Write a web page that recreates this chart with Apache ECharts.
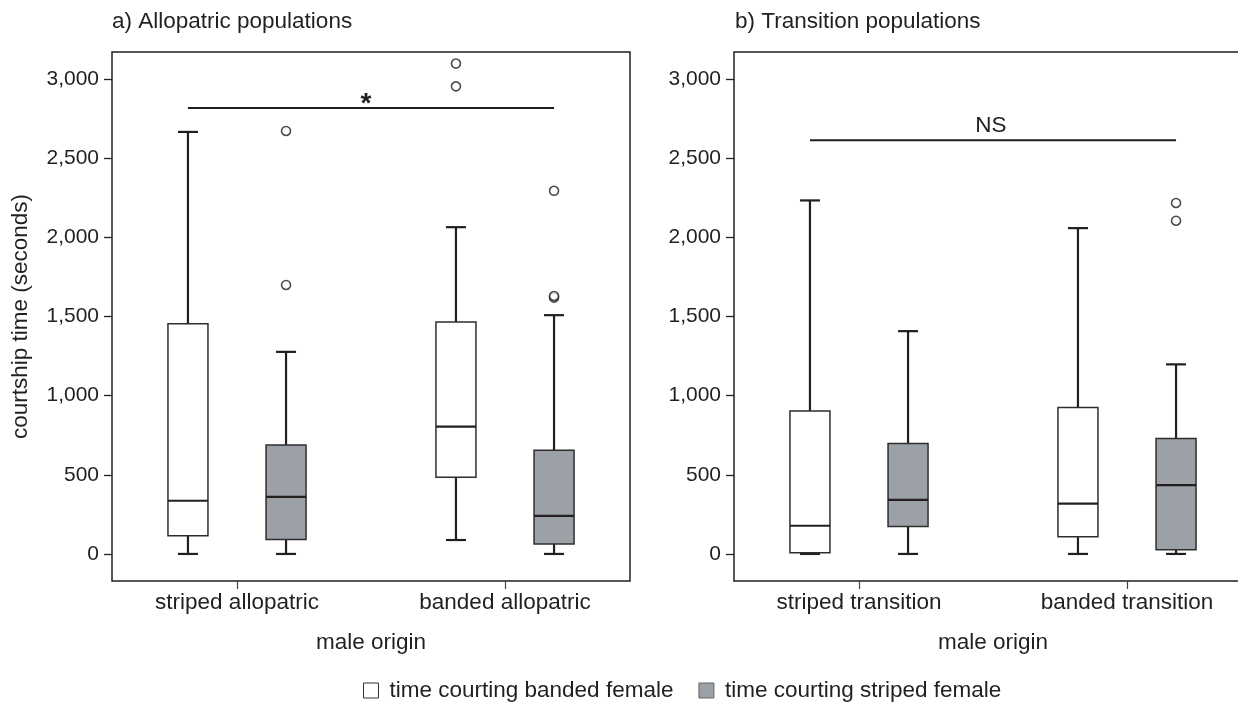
<!DOCTYPE html>
<html>
<head>
<meta charset="utf-8">
<title>courtship time</title>
<script src="https://cdn.jsdelivr.net/npm/echarts@6/dist/echarts.min.js"></script>
<style>
  html, body { margin: 0; padding: 0; background: #fff; }
  #chart { width: 1238px; height: 703px; }
</style>
</head>
<body>
<div id="chart"></div>
<script>
// categories on the x axis of each panel
const groupsA = ["striped allopatric", "banded allopatric"];
const groupsB = ["striped transition", "banded transition"];
const groupPos = [1, 2];
const seriesNames = ["time courting banded female", "time courting striped female"];

// box summaries: [min, q1, median, q3, max]
const bandedA = [[0, 115, 336, 1455, 2667], [88, 484, 804, 1466, 2065]];
const stripedA = [[0, 92, 360, 689, 1277], [0, 63, 241, 655, 1509]];
const bandedB = [[0, 7, 178, 903, 2234], [0, 108, 318, 926, 2059]];
const stripedB = [[0, 173, 342, 698, 1408], [0, 27, 435, 730, 1198]];

// outliers per group
const outBandedA = [[], [2955, 3099]];
const outStripedA = [[1700, 2673], [1620, 1630, 2295]];
const outBandedB = [[], []];
const outStripedB = [[], [2106, 2218]];

// significance bars
const sigLabels = ["*", "NS"];
const sigValues = [2818, 2615];

const yTicks = [0, 500, 1000, 1500, 2000, 2500, 3000];

const FONT = "Liberation Sans, Arial, Helvetica, sans-serif";
const FS = 22.5;
const INK = "#231f20";
const GREY = "#9ba1a6";
const SIDE = 0.183;      // dodge of the two boxes around the group tick
const BOX_W = 40;
const CAP_W = 20;

function boxRenderer(fill) {
  return function (params, api) {
    const x = api.value(0);
    const pMin = api.coord([x, api.value(1)]);
    const pQ1 = api.coord([x, api.value(2)]);
    const pMed = api.coord([x, api.value(3)]);
    const pQ3 = api.coord([x, api.value(4)]);
    const pMax = api.coord([x, api.value(5)]);
    const cx = pMin[0];
    const hw = BOX_W / 2, cw = CAP_W / 2;
    const ln = (x1, y1, x2, y2, w) => ({
      type: "line", shape: { x1, y1, x2, y2 }, style: { stroke: INK, lineWidth: w }
    });
    return {
      type: "group",
      children: [
        ln(cx, pQ3[1], cx, pMax[1], 2.2),
        ln(cx, pMin[1], cx, pQ1[1], 2.2),
        ln(cx - cw, pMax[1], cx + cw, pMax[1], 2.2),
        ln(cx - cw, pMin[1], cx + cw, pMin[1], 2.2),
        {
          type: "rect",
          shape: { x: cx - hw, y: pQ3[1], width: BOX_W, height: pQ1[1] - pQ3[1] },
          style: { fill: fill, stroke: "#2e2e2e", lineWidth: 1.5 }
        },
        ln(cx - hw, pMed[1], cx + hw, pMed[1], 2.2)
      ]
    };
  };
}

function sigRenderer(params, api) {
  const a = api.coord([api.value(0), api.value(2)]);
  const b = api.coord([api.value(1), api.value(2)]);
  const label = sigLabels[params.seriesName === "sigB" ? 1 : 0];
  const star = label === "*";
  return {
    type: "group",
    children: [
      { type: "line", shape: { x1: a[0], y1: a[1], x2: b[0], y2: b[1] }, style: { stroke: INK, lineWidth: 2 } },
      {
        type: "text",
        x: (a[0] + b[0]) / 2 - (star ? 5 : 2),
        y: a[1] - (star ? 4 : 14),
        style: {
          text: label, fill: INK, font: (star ? "bold 28px " : FS + "px ") + FONT,
          align: "center", verticalAlign: "middle"
        }
      }
    ]
  };
}

function boxData(list, shift) {
  return list.map((b, i) => [groupPos[i] + shift].concat(b));
}
function outData(list, shift) {
  const out = [];
  list.forEach((vals, i) => vals.forEach((v) => out.push([groupPos[i] + shift, v])));
  return out;
}

const chart = echarts.init(document.getElementById("chart"));

function xAxisFor(gridIndex, names) {
  return {
    type: "value", gridIndex: gridIndex,
    min: 1 - 125 / 268, max: 2 + 125 / 268,
    name: "male origin", nameLocation: "middle", nameGap: 50,
    nameTextStyle: { color: INK, fontSize: FS, fontFamily: FONT },
    axisLine: { show: false, onZero: false },
    splitLine: { show: false },
    axisTick: { show: true, customValues: groupPos, length: 8, inside: false, lineStyle: { color: "#444", width: 1.2 } },
    axisLabel: {
      customValues: groupPos, margin: 10, color: INK, fontSize: FS, fontFamily: FONT,
      formatter: (v) => names[Math.round(v) - 1]
    }
  };
}

function yAxisFor(gridIndex, withName) {
  return {
    type: "value", gridIndex: gridIndex, min: -171, max: 3172,
    name: withName ? "courtship time (seconds)" : "",
    nameLocation: "middle", nameGap: 80,
    nameTextStyle: { color: INK, fontSize: FS, fontFamily: FONT },
    axisLine: { show: false, onZero: false },
    splitLine: { show: false },
    axisTick: { show: true, customValues: yTicks, length: 8, lineStyle: { color: INK, width: 1.3 } },
    axisLabel: {
      customValues: yTicks, margin: 13, color: INK, fontSize: 21, fontFamily: FONT,
      formatter: (v) => v.toLocaleString("en-US")
    }
  };
}

const option = {
  animation: false,
  backgroundColor: "#fff",
  textStyle: { fontFamily: FONT },
  title: [
    { text: "a) Allopatric populations", left: 112, top: 10, padding: 0,
      textStyle: { color: INK, fontSize: FS, fontWeight: "normal", fontFamily: FONT } },
    { text: "b) Transition populations", left: 735, top: 10, padding: 0,
      textStyle: { color: INK, fontSize: FS, fontWeight: "normal", fontFamily: FONT } }
  ],
  legend: {
    left: 363, top: 679, padding: 0,
    itemWidth: 15, itemHeight: 15, itemGap: 25,
    textStyle: { color: INK, fontSize: FS, fontFamily: FONT, padding: [0, 0, 0, 6] },
    data: [
      { name: seriesNames[0], icon: "rect", itemStyle: { color: "#fff", borderColor: "#333", borderWidth: 1 } },
      { name: seriesNames[1], icon: "rect", itemStyle: { color: GREY, borderColor: "#666", borderWidth: 1 } }
    ]
  },
  grid: [
    { left: 112, top: 52, width: 518, height: 529, show: true, borderColor: INK, borderWidth: 1.5,
      backgroundColor: "transparent", outerBoundsMode: "none", containLabel: false },
    { left: 734, top: 52, width: 518, height: 529, show: true, borderColor: INK, borderWidth: 1.5,
      backgroundColor: "transparent", outerBoundsMode: "none", containLabel: false }
  ],
  xAxis: [xAxisFor(0, groupsA), xAxisFor(1, groupsB)],
  yAxis: [yAxisFor(0, true), yAxisFor(1, false)],
  series: [
    { type: "custom", name: seriesNames[0], xAxisIndex: 0, yAxisIndex: 0,
      itemStyle: { color: "#fff", borderColor: "#333" },
      renderItem: boxRenderer("#fff"), encode: { x: 0, y: [1, 2, 3, 4, 5] }, data: boxData(bandedA, -SIDE) },
    { type: "custom", name: seriesNames[1], xAxisIndex: 0, yAxisIndex: 0,
      itemStyle: { color: GREY, borderColor: "#666" },
      renderItem: boxRenderer(GREY), encode: { x: 0, y: [1, 2, 3, 4, 5] }, data: boxData(stripedA, SIDE) },
    { type: "custom", name: seriesNames[0], xAxisIndex: 1, yAxisIndex: 1,
      itemStyle: { color: "#fff", borderColor: "#333" },
      renderItem: boxRenderer("#fff"), encode: { x: 0, y: [1, 2, 3, 4, 5] }, data: boxData(bandedB, -SIDE) },
    { type: "custom", name: seriesNames[1], xAxisIndex: 1, yAxisIndex: 1,
      itemStyle: { color: GREY, borderColor: "#666" },
      renderItem: boxRenderer(GREY), encode: { x: 0, y: [1, 2, 3, 4, 5] }, data: boxData(stripedB, SIDE) },
    { type: "scatter", name: "outliersA", xAxisIndex: 0, yAxisIndex: 0, symbol: "circle", symbolSize: 9,
      itemStyle: { color: "#fff", borderColor: INK, borderWidth: 1.6 },
      data: outData(outBandedA, -SIDE).concat(outData(outStripedA, SIDE)) },
    { type: "scatter", name: "outliersB", xAxisIndex: 1, yAxisIndex: 1, symbol: "circle", symbolSize: 9,
      itemStyle: { color: "#fff", borderColor: INK, borderWidth: 1.6 },
      data: outData(outBandedB, -SIDE).concat(outData(outStripedB, SIDE)) },
    { type: "custom", name: "sigA", xAxisIndex: 0, yAxisIndex: 0, renderItem: sigRenderer,
      data: [[groupPos[0] - SIDE, groupPos[1] + SIDE, sigValues[0]]] },
    { type: "custom", name: "sigB", xAxisIndex: 1, yAxisIndex: 1, renderItem: sigRenderer,
      data: [[groupPos[0] - SIDE, groupPos[1] + SIDE, sigValues[1]]] }
  ]
};

chart.setOption(option);
</script>
</body>
</html>
